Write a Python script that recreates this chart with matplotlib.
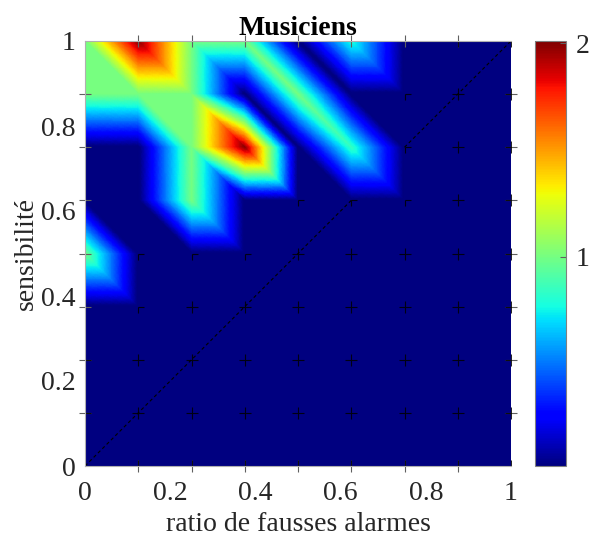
import numpy as np
import matplotlib
matplotlib.use('Agg')
import matplotlib.pyplot as plt
import matplotlib.tri as mtri

plt.rcParams['font.family'] = ['Liberation Serif', 'DejaVu Serif']

fa_grid = [0, 0.125, 0.25, 0.375, 0.5, 0.625, 0.75, 0.875, 1]
sens_grid = [1, 0.875, 0.75, 0.625, 0.5, 0.375, 0.25, 0.125, 0]

# rows go from sensibilite 1 down to 0
density = [
    [1, 2, 1, 1, 0, 0.8, 0, 0, 0],
    [1, 1, 1, 0, 1, 0, 0, 0, 0],
    [0, 0, 1, 2, 0, 0.85, 0, 0, 0],
    [0, 0, 1, 0, 0, 0, 0, 0, 0],
    [1, 0, 0, 0, 0, 0, 0, 0, 0],
    [0, 0, 0, 0, 0, 0, 0, 0, 0],
    [0, 0, 0, 0, 0, 0, 0, 0, 0],
    [0, 0, 0, 0, 0, 0, 0, 0, 0],
    [0, 0, 0, 0, 0, 0, 0, 0, 0],
]

# what is left of the + marks: 0 hidden, 1 full cross, 2 only right and down arms
marks = [
    [0, 0, 0, 0, 0, 0, 0, 1, 1],
    [0, 0, 0, 0, 0, 0, 2, 1, 1],
    [0, 0, 0, 0, 0, 0, 2, 1, 1],
    [0, 0, 0, 0, 2, 2, 2, 1, 1],
    [0, 2, 2, 2, 1, 1, 1, 1, 1],
    [0, 2, 1, 1, 1, 1, 1, 1, 1],
    [1, 1, 1, 1, 1, 1, 1, 1, 1],
    [1, 1, 1, 1, 1, 1, 1, 1, 1],
    [1, 1, 1, 1, 1, 1, 1, 1, 1],
]

diag_low = [0, 0.625]
diag_high = [0.75, 1]
tick_labels = ['0', '0.2', '0.4', '0.6', '0.8', '1']
tick_vals = [0, 0.2, 0.4, 0.6, 0.8, 1]
clim = (0.02, 2.01)

W, H = 590, 537
fig = plt.figure(figsize=(W / 100, H / 100), dpi=100)
ax = fig.add_axes([85 / W, 1 - 466 / H, 426 / W, 425 / H])

xx, yy = np.meshgrid(fa_grid, sens_grid)
zz = np.array(density, dtype=float)

# two triangles per cell, cut from upper left to lower right, like the source surface
n = len(fa_grid)
triangles = []
for r in range(n - 1):
    for c in range(n - 1):
        tl = r * n + c
        tr = tl + 1
        bl = tl + n
        br = bl + 1
        triangles.append([tl, tr, br])
        triangles.append([tl, br, bl])
tri = mtri.Triangulation(xx.ravel(), yy.ravel(), triangles)

# refine so colours follow the value, gouraud alone would blend in rgb
refiner = mtri.UniformTriRefiner(tri)
linear = mtri.LinearTriInterpolator(tri, zz.ravel())
fine_tri, fine_z = refiner.refine_field(zz.ravel(), triinterpolator=linear, subdiv=5)
pc = ax.tripcolor(fine_tri, fine_z, shading='gouraud', cmap='jet', vmin=clim[0], vmax=clim[1])

ax.plot(diag_low, diag_low, color='black', lw=0.8, ls=(0, (3, 2.5)))
ax.plot(diag_high, diag_high, color='black', lw=0.8, ls=(0, (3, 2.5)))

m = np.array(marks)
ax.plot(xx[m == 1], yy[m == 1], ls='none', marker='+', ms=9, mew=0.8, color='black', alpha=0.85)
ax.plot(xx[m == 2], yy[m == 2], ls='none', marker=1, ms=4.5, mew=0.8, color='black', alpha=0.85)
ax.plot(xx[m == 2], yy[m == 2], ls='none', marker=3, ms=4.5, mew=0.8, color='black', alpha=0.85)

ax.set_xlim(0, 1)
ax.set_ylim(0, 1)
ax.set_xticks(tick_vals)
ax.set_xticklabels(tick_labels)
ax.set_yticks(tick_vals)
ax.set_yticklabels(tick_labels)
ax.set_xticks(fa_grid, minor=True)
ax.set_yticks(sens_grid, minor=True)
ax.tick_params(which='major', length=0, labelsize=20, colors='#262626', pad=7)
ax.tick_params(axis='x', which='major', pad=10.5)
ax.tick_params(which='minor', length=8, width=0.8, direction='inout', color='#606060',
               top=True, right=True, bottom=True, left=True)
for side in ['left', 'top', 'bottom']:
    ax.spines[side].set_color('#b0b0b0')
ax.spines['right'].set_visible(False)

ax.set_xlabel('ratio de fausses alarmes', fontsize=20, color='#262626', labelpad=4.5)
ax.set_ylabel('sensibilité', fontsize=20, color='#262626', labelpad=1)
ax.set_title('Musiciens', fontsize=20, fontweight='bold', pad=4)

cax = fig.add_axes([535 / W, 1 - 466 / H, 31 / W, 425 / H])
cb = fig.colorbar(pc, cax=cax)
cb.set_ticks([1, 2])
cb.set_ticklabels(['1', '2'])
cb.ax.tick_params(length=4, width=0.8, direction='in', color='#606060', labelsize=20,
                  labelcolor='#262626', pad=7)
cb.outline.set_edgecolor('#808080')

fig.savefig('out.png', dpi=100)
plt.close(fig)
